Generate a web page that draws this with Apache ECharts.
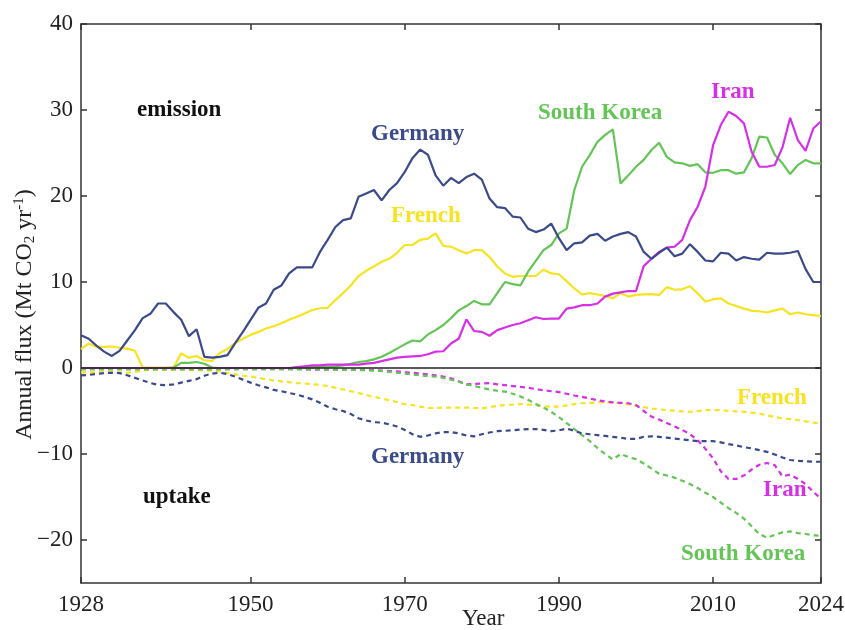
<!DOCTYPE html>
<html>
<head>
<meta charset="utf-8">
<title>Annual flux</title>
<script src="https://cdn.jsdelivr.net/npm/echarts@6/dist/echarts.min.js"></script>
<style>
  html, body { margin: 0; padding: 0; background: #fff; }
  #chart { width: 845px; height: 630px; }
</style>
</head>
<body>
<div id="chart"></div>
<script>
// years 1928..2024, one value per year
var years = [];
for (var y = 1928; y <= 2024; y++) years.push(y);

var xTicks = [1928, 1950, 1970, 1990, 2010, 2024];
var yTicks = [-20, -10, 0, 10, 20, 30, 40];

// emission (solid)
var germanyEmission = [
  3.8, 3.4, 2.6, 1.9, 1.4, 2.0, 3.2, 4.4, 5.8, 6.3,
  7.5, 7.5, 6.5, 5.6, 3.7, 4.5, 1.3, 1.2, 1.3, 1.5,
  2.9, 4.2, 5.6, 7.0, 7.5, 9.1, 9.6, 11.0, 11.7, 11.7,
  11.7, 13.5, 14.9, 16.4, 17.2, 17.4, 19.9, 20.3, 20.7, 19.5,
  20.7, 21.5, 22.8, 24.4, 25.4, 24.8, 22.4, 21.2, 22.1, 21.5,
  22.2, 22.6, 21.9, 19.7, 18.7, 18.6, 17.6, 17.5, 16.2, 15.8,
  16.1, 16.8, 15.1, 13.7, 14.5, 14.6, 15.4, 15.6, 14.8, 15.3,
  15.6, 15.8, 15.3, 13.5, 12.7, 13.4, 14.0, 13.0, 13.3, 14.4,
  13.5, 12.5, 12.4, 13.4, 13.3, 12.5, 12.9, 12.7, 12.6, 13.4,
  13.3, 13.3, 13.4, 13.6, 11.5, 10.0, 10.0
];
var frenchEmission = [
  2.2, 2.85, 2.45, 2.45, 2.5, 2.35, 2.25, 2.0, 0.05, 0.05,
  0.05, 0.05, 0.05, 1.7, 1.2, 1.4, 0.9, 0.8, 1.75, 2.2,
  2.9, 3.4, 3.85, 4.2, 4.6, 4.85, 5.2, 5.6, 5.95, 6.35,
  6.75, 6.95, 7.0, 7.9, 8.7, 9.6, 10.7, 11.3, 11.8, 12.35,
  12.7, 13.4, 14.3, 14.3, 14.9, 15.05, 15.65, 14.2, 14.1, 13.7,
  13.3, 13.7, 13.7, 12.9, 11.8, 11.0, 10.6, 10.7, 10.7, 10.7,
  11.45, 11.0, 10.9, 10.1, 9.25, 8.55, 8.7, 8.55, 8.35, 8.1,
  8.7, 8.3, 8.5, 8.55, 8.6, 8.5, 9.4, 9.1, 9.15, 9.5,
  8.7, 7.7, 8.0, 8.1, 7.5, 7.2, 6.9, 6.65, 6.6, 6.45,
  6.7, 6.9, 6.25, 6.45, 6.25, 6.15, 6.05
];
var koreaEmission = [
  0, 0, 0, 0, 0, 0, 0, 0, 0, 0,
  0, 0, 0.05, 0.6, 0.6, 0.7, 0.5, 0.05, 0, 0,
  0, 0, 0, 0, 0, 0, 0, 0, 0, 0.05,
  0.1, 0.1, 0.15, 0.2, 0.3, 0.5, 0.7, 0.8, 1.0, 1.3,
  1.75, 2.25, 2.75, 3.2, 3.1, 3.9, 4.4, 5.0, 5.8, 6.7,
  7.2, 7.8, 7.4, 7.4, 8.7, 10.0, 9.75, 9.6, 11.2, 12.45,
  13.7, 14.3, 15.65, 16.2, 20.7, 23.4, 24.75, 26.3, 27.1, 27.75,
  21.45, 22.4, 23.4, 24.2, 25.35, 26.2, 24.55, 23.9, 23.8, 23.5,
  23.7, 22.75, 22.7, 23.0, 23.0, 22.6, 22.75, 24.4, 26.9, 26.8,
  24.8, 23.8, 22.55, 23.6, 24.2, 23.8, 23.8
];
var iranEmission = [
  0, 0, 0, 0, 0, 0, 0, 0, 0, 0,
  0, 0, 0, 0, 0, 0, 0, 0, 0, 0,
  0, 0, 0, 0, 0, 0, 0, 0, 0.1, 0.2,
  0.3, 0.3, 0.4, 0.4, 0.4, 0.4, 0.4, 0.5, 0.6, 0.8,
  1.0, 1.2, 1.3, 1.35, 1.4, 1.6, 1.9, 1.95, 2.85, 3.4,
  5.65, 4.3, 4.2, 3.75, 4.4, 4.7, 5.0, 5.2, 5.55, 5.9,
  5.7, 5.75, 5.75, 6.9, 7.05, 7.3, 7.3, 7.5, 8.3, 8.65,
  8.8, 8.95, 8.95, 11.85, 12.7, 13.5, 14.0, 14.1, 14.9, 17.2,
  18.75, 21.1, 25.9, 28.25, 29.8, 29.3, 28.45, 25.15, 23.4, 23.4,
  23.6, 25.65, 29.1, 26.5, 25.25, 27.85, 28.7
];

// uptake (dashed)
var germanyUptake = [
  -0.85, -0.8, -0.7, -0.6, -0.55, -0.6, -0.85, -1.15, -1.45, -1.75,
  -1.95, -2.0, -1.9, -1.7, -1.5, -1.3, -0.9, -0.65, -0.55, -0.7,
  -1.0, -1.35, -1.7, -2.0, -2.25, -2.55, -2.7, -2.9, -3.1, -3.35,
  -3.65, -4.05, -4.5, -4.8, -5.0, -5.35, -5.85, -6.1, -6.3, -6.35,
  -6.55, -6.8, -7.2, -7.7, -8.0, -7.85, -7.6, -7.45, -7.45, -7.6,
  -7.85, -7.95, -7.7, -7.5, -7.35, -7.3, -7.25, -7.15, -7.1, -7.1,
  -7.2, -7.35, -7.25, -7.05, -7.3, -7.6, -7.7, -7.8, -7.9, -8.0,
  -8.1, -8.25, -8.25, -8.0, -7.95, -8.0, -8.1, -8.2, -8.3, -8.4,
  -8.5, -8.5, -8.5, -8.65, -8.85, -9.0, -9.2, -9.35, -9.55, -9.75,
  -10.05, -10.4, -10.7, -10.8, -10.85, -10.9, -10.9
];
var frenchUptake = [
  -0.5, -0.5, -0.5, -0.45, -0.45, -0.5, -0.55, -0.45, -0.3, -0.2,
  -0.2, -0.2, -0.2, -0.2, -0.25, -0.25, -0.25, -0.3, -0.4, -0.6,
  -0.75, -0.9, -1.0, -1.15, -1.3, -1.45, -1.55, -1.65, -1.75, -1.8,
  -1.9, -1.95, -2.1, -2.3, -2.5, -2.7, -2.9, -3.15, -3.35, -3.55,
  -3.75, -3.95, -4.2, -4.3, -4.5, -4.65, -4.65, -4.6, -4.6, -4.6,
  -4.6, -4.65, -4.7, -4.55, -4.4, -4.3, -4.25, -4.2, -4.25, -4.35,
  -4.45, -4.5, -4.5, -4.35, -4.2, -4.1, -4.05, -4.0, -4.0, -4.0,
  -4.1, -4.2, -4.4, -4.55, -4.7, -4.8, -4.9, -4.95, -5.05, -5.1,
  -5.0, -4.9, -4.9, -4.9, -5.0, -5.05, -5.1, -5.2, -5.3, -5.5,
  -5.7, -5.85, -5.95, -6.05, -6.2, -6.35, -6.45
];
var koreaUptake = [
  -0.15, -0.15, -0.15, -0.15, -0.15, -0.15, -0.15, -0.15, -0.15, -0.15,
  -0.15, -0.15, -0.15, -0.15, -0.15, -0.15, -0.15, -0.15, -0.15, -0.15,
  -0.15, -0.15, -0.15, -0.15, -0.15, -0.15, -0.15, -0.15, -0.15, -0.15,
  -0.15, -0.15, -0.15, -0.2, -0.2, -0.2, -0.25, -0.25, -0.3, -0.35,
  -0.45, -0.55, -0.65, -0.75, -0.85, -0.95, -1.0, -1.15, -1.35, -1.6,
  -1.9, -2.1, -2.3, -2.5, -2.65, -2.75, -3.0, -3.3, -3.7, -4.2,
  -4.6, -5.1, -5.7, -6.4, -7.1, -7.8, -8.5, -9.3, -10.0, -10.65,
  -10.0, -10.35, -10.6, -11.1, -11.7, -12.3, -12.5, -12.75, -13.1, -13.5,
  -13.95, -14.5, -15.0, -15.65, -16.3, -16.85, -17.5, -18.4, -19.3, -19.75,
  -19.4, -19.1, -19.0, -19.2, -19.3, -19.45, -19.5
];
var iranUptake = [
  0, 0, 0, 0, 0, 0, 0, 0, 0, 0,
  0, 0, 0, 0, 0, 0, 0, 0, 0, 0,
  0, 0, 0, 0, 0, 0, 0, 0, -0.1, -0.15,
  -0.2, -0.2, -0.2, -0.2, -0.2, -0.2, -0.2, -0.2, -0.25, -0.3,
  -0.35, -0.4, -0.5, -0.55, -0.65, -0.75, -0.85, -1.0, -1.2, -1.55,
  -1.9, -1.85, -1.8, -1.75, -1.9, -2.0, -2.1, -2.2, -2.3, -2.45,
  -2.6, -2.7, -2.8, -3.0, -3.2, -3.35, -3.55, -3.75, -3.9, -4.0,
  -4.05, -4.1, -4.3, -5.0, -5.65, -6.0, -6.4, -6.8, -7.2, -7.7,
  -8.4, -9.4, -10.5, -12.0, -12.9, -12.9, -12.5, -11.8, -11.25, -11.05,
  -11.3, -12.6, -12.4, -12.9, -13.5, -14.4, -15.2
];

var colors = {
  germany: '#3b4a8b',
  french: '#f7e31f',
  korea: '#63c556',
  iran: '#d530e8'
};

var serif = '"Liberation Serif", "DejaVu Serif", serif';

function pairs(vals) {
  var out = [];
	for (var i = 0; i < years.length; i++) {
		out.push([years[i], vals[i]]);
	}
	return out;
}

function line(name, vals, color, dashed) {
	return {
		name: name,
		type: 'line',
		data: pairs(vals),
		showSymbol: false,
		symbol: 'none',
		silent: true,
		lineStyle: {
			color: color,
			width: 2.2,
			type: dashed ? [5, 4] : 'solid'
		}
	};
}

var axisColor = '#333';

function xAxisCfg(top) {
	return {
		type: 'value',
		position: top ? 'top' : 'bottom',
		min: 1928,
		max: 2024,
		axisLine: { onZero: false, lineStyle: { color: axisColor, width: 1.5 } },
		axisTick: { inside: true, length: 6, customValues: xTicks, lineStyle: { color: axisColor, width: 1.5 } },
		axisLabel: {
			show: !top,
			customValues: xTicks,
			formatter: function(v) { return String(v); },
			fontFamily: serif,
			fontSize: 23,
			color: '#222',
			margin: 10
		},
		splitLine: { show: false }
	};
}

function yAxisCfg(right) {
	var cfg = {
		type: 'value',
		position: right ? 'right' : 'left',
		min: -25,
		max: 40,
		axisLine: { onZero: false, lineStyle: { color: axisColor, width: 1.5 } },
		axisTick: { inside: true, length: 6, customValues: yTicks, lineStyle: { color: axisColor, width: 1.5 } },
		axisLabel: {
			show: !right,
			customValues: yTicks,
			formatter: function(v) { return v < 0 ? '\u2212' + (-v) : String(v); },
			fontFamily: serif,
			fontSize: 23,
			color: '#222',
			margin: 8
		},
		splitLine: { show: false }
	};
	if (!right) {
		cfg.name = 'Annual flux (Mt CO{sub|2} yr{sup|-1})';
		cfg.nameLocation = 'middle';
		cfg.nameGap = 43;
		cfg.nameMoveOverlap = false;
		cfg.nameTextStyle = {
			fontFamily: serif,
			fontSize: 24,
			color: '#222',
			padding: [0, 22, 0, 0],
			rich: {
				sub: { fontFamily: serif, fontSize: 15, color: '#222', verticalAlign: 'bottom', lineHeight: 26 },
				sup: { fontFamily: serif, fontSize: 15, color: '#222', verticalAlign: 'top', lineHeight: 26 }
			}
		};
	}
	return cfg;
}

function label(text, x, y, color) {
	return {
		type: 'text',
		x: x,
		y: y,
		silent: true,
		style: {
			text: text,
			font: 'bold 23px ' + serif,
			fill: color,
			verticalAlign: 'middle'
		}
	};
}

var zeroSeries = line('Germany', germanyEmission, colors.germany, false);
zeroSeries.markLine = {
	silent: true,
	symbol: 'none',
	label: { show: false },
	lineStyle: { color: '#222', width: 1.5, type: 'solid' },
	data: [{ yAxis: 0 }]
};

var option = {
	animation: false,
	backgroundColor: '#fff',
	grid: { left: 81, right: 24, top: 24, bottom: 47, outerBoundsMode: 'none', containLabel: false },
	xAxis: [xAxisCfg(false), xAxisCfg(true)],
	yAxis: [yAxisCfg(false), yAxisCfg(true)],
	series: [
		line('French uptake', frenchUptake, colors.french, true),
		line('Iran uptake', iranUptake, colors.iran, true),
		line('South Korea uptake', koreaUptake, colors.korea, true),
		line('Germany uptake', germanyUptake, colors.germany, true),
		line('French', frenchEmission, colors.french, false),
		line('South Korea', koreaEmission, colors.korea, false),
		line('Iran', iranEmission, colors.iran, false),
		zeroSeries
	],
	graphic: [
		label('emission', 137, 110, '#111'),
		label('uptake', 143, 497, '#111'),
		label('Germany', 371, 134, colors.germany),
		label('French', 391, 216, colors.french),
		label('South Korea', 538, 113, colors.korea),
		label('Iran', 711, 92, colors.iran),
		label('Germany', 371, 457, colors.germany),
		label('French', 737, 398, colors.french),
		label('Iran', 763, 490, colors.iran),
		label('South Korea', 681, 554, colors.korea),
		{
			type: 'text',
			x: 462,
			y: 619,
			silent: true,
			style: { text: 'Year', font: '23px ' + serif, fill: '#222', verticalAlign: 'middle' }
		}
	]
};

var chart = echarts.init(document.getElementById('chart'), null, { renderer: 'canvas' });
chart.setOption(option);
</script>
</body>
</html>
